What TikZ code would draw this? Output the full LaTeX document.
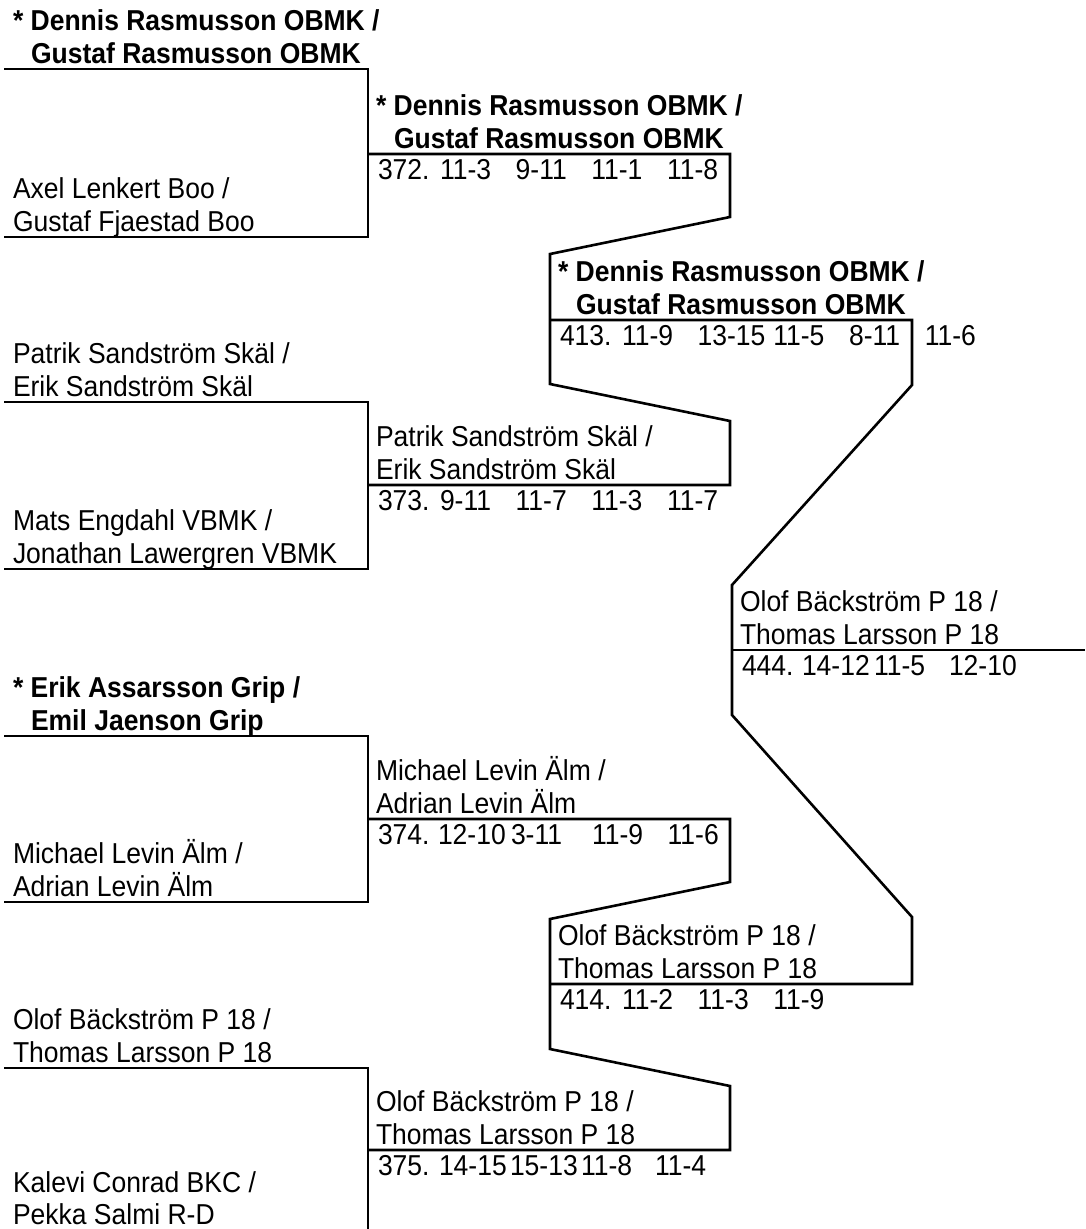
\documentclass[tikz,border=0pt]{standalone}
\usepackage{fontspec}
\setmainfont{Liberation Sans}[FakeStretch=0.92]
\begin{document}
\begin{tikzpicture}[x=1pt,y=-1pt,
  lbl/.style={anchor=base west, inner sep=0pt, outer sep=0pt, font=\fontsize{28.8}{33}\selectfont},
  win/.style={lbl, font=\fontsize{28.8}{33}\selectfont\bfseries},
  bline/.style={draw=black, line width=2.6pt, line join=miter}]
\useasboundingbox (0,0) rectangle (1085,1229);
\clip (0,0) rectangle (1085,1229);
\fill[white] (0,0) rectangle (1085,1229);

% round 1 brackets
\draw[bline] (4,69) -- (368,69) -- (368,237) -- (4,237);
\draw[bline] (4,402) -- (368,402) -- (368,569) -- (4,569);
\draw[bline] (4,736) -- (368,736) -- (368,902) -- (4,902);
\draw[bline] (4,1068) -- (368,1068) -- (368,1236) -- (4,1236);

% round 2 result boxes joined to round 3
\draw[bline] (368,154) -- (730,154) -- (730,217) -- (550,254) -- (550,384) -- (730,421) -- (730,485) -- (368,485);
\draw[bline] (368,819) -- (730,819) -- (730,882) -- (550,919) -- (550,1049) -- (730,1086) -- (730,1150) -- (368,1150);

% round 3 boxes joined to final
\draw[bline] (550,320) -- (912,320) -- (912,385) -- (732,585) -- (732,715) -- (912,917) -- (912,984) -- (550,984);
\draw[bline] (732,650) -- (1085,650);

% round 1 players
\node[win] (p1a) at (13,30) {* Dennis Rasmusson OBMK /};
\node[win] (p1b) at (31,63) {Gustaf Rasmusson OBMK};
\node[lbl] (p2a) at (13,198) {Axel Lenkert Boo /};
\node[lbl] (p2b) at (13,231) {Gustaf Fjaestad Boo};
\node[lbl] (p3a) at (13,363) {Patrik Sandström Skäl /};
\node[lbl] (p3b) at (13,396) {Erik Sandström Skäl};
\node[lbl] (p4a) at (13,530) {Mats Engdahl VBMK /};
\node[lbl] (p4b) at (13,563) {Jonathan Lawergren VBMK};
\node[win] (p5a) at (13,697) {* Erik Assarsson Grip /};
\node[win] (p5b) at (31,730) {Emil Jaenson Grip};
\node[lbl] (p6a) at (13,863) {Michael Levin Älm /};
\node[lbl] (p6b) at (13,896) {Adrian Levin Älm};
\node[lbl] (p7a) at (13,1029) {Olof Bäckström P 18 /};
\node[lbl] (p7b) at (13,1062) {Thomas Larsson P 18};
\node[lbl] (p8a) at (13,1192) {Kalevi Conrad BKC /};
\node[lbl] (p8b) at (13,1224) {Pekka Salmi R-D};

% round 2 winners
\node[win] (w372a) at (376,115) {* Dennis Rasmusson OBMK /};
\node[win] (w372b) at (394,148) {Gustaf Rasmusson OBMK};
\node[lbl] (w373a) at (376,446) {Patrik Sandström Skäl /};
\node[lbl] (w373b) at (376,479) {Erik Sandström Skäl};
\node[lbl] (w374a) at (376,780) {Michael Levin Älm /};
\node[lbl] (w374b) at (376,813) {Adrian Levin Älm};
\node[lbl] (w375a) at (376,1111) {Olof Bäckström P 18 /};
\node[lbl] (w375b) at (376,1144) {Thomas Larsson P 18};

% round 3 winners
\node[win] (w413a) at (558,281) {* Dennis Rasmusson OBMK /};
\node[win] (w413b) at (576,314) {Gustaf Rasmusson OBMK};
\node[lbl] (w414a) at (558,945) {Olof Bäckström P 18 /};
\node[lbl] (w414b) at (558,978) {Thomas Larsson P 18};

% final winner
\node[lbl] (w444a) at (740,611) {Olof Bäckström P 18 /};
\node[lbl] (w444b) at (740,644) {Thomas Larsson P 18};

% scores
\foreach \t/\x [count=\i] in {372./378, 11-3/440, 9-11/515.7, 11-1/591.4, 11-8/667.1}
  \node[lbl] (s372-\i) at (\x,179) {\t};
\foreach \t/\x [count=\i] in {373./378, 9-11/440, 11-7/515.7, 11-3/591.4, 11-7/667.1}
  \node[lbl] (s373-\i) at (\x,510) {\t};
\foreach \t/\x [count=\i] in {374./378, 12-10/438, 3-11/511, 11-9/592, 11-6/667.7}
  \node[lbl] (s374-\i) at (\x,844) {\t};
\foreach \t/\x [count=\i] in {375./378, 14-15/439, 15-13/510, 11-8/581, 11-4/655}
  \node[lbl] (s375-\i) at (\x,1175) {\t};
\foreach \t/\x [count=\i] in {413./560, 11-9/622, 13-15/697.7, 11-5/773.4, 8-11/849.1, 11-6/924.8}
  \node[lbl] (s413-\i) at (\x,345) {\t};
\foreach \t/\x [count=\i] in {414./560, 11-2/622, 11-3/697.7, 11-9/773.4}
  \node[lbl] (s414-\i) at (\x,1009) {\t};
\foreach \t/\x [count=\i] in {444./742, 14-12/802, 11-5/874, 12-10/949}
  \node[lbl] (s444-\i) at (\x,675) {\t};
\end{tikzpicture}
\end{document}
